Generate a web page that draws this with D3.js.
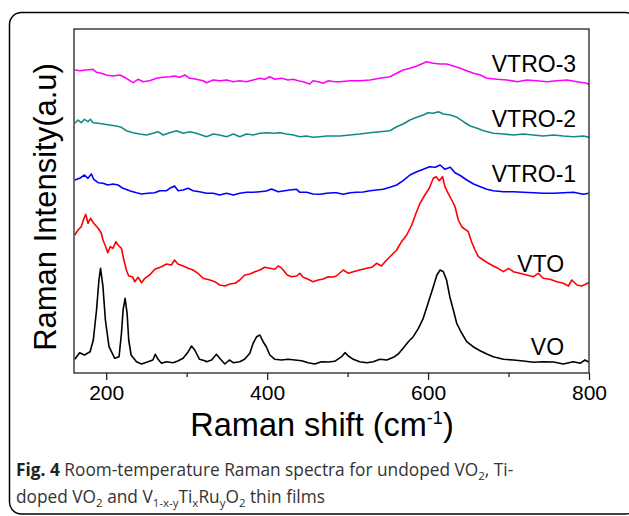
<!DOCTYPE html>
<meta charset="utf-8">
<script src="https://cdn.jsdelivr.net/npm/d3@7/dist/d3.min.js"></script>
<style>
body { margin: 0; background: #fff; }
text { font-family: "Liberation Sans", Arial, sans-serif; fill: #000; }
.caption text, text.caption { font-family: "Open Sans", "Noto Sans", sans-serif; fill: #333; }
</style>
<body>
<script>

// Raman spectra, [shift (cm-1), intensity (a.u., stacked offset)]
var vo = [[161,13.7],[167,20.3],[173,18],[180,21.3],[184,33],[188,63],[191,93],[193,104.7],[196,86.3],[199,53],
  [203.5,26.3],[210.6,14.7],[216,16.3],[219,40],[221,63],[223.5,74.7],[226,59.7],[228,33],[231,18],[237.6,11.3],
  [244,9],[252,11.3],[258,13],[261,18.7],[264.5,13.7],[268.7,9.7],[275,11.3],[283,10.3],[289,12],[295.6,14.7],
  [302,21.3],[306,27],[310,23],[316,13.7],[322.6,12.3],[324.7,11.3],[331,13],[337,18.7],[341,14.7],[347.5,9],
  [353,13],[358,10.3],[366,11.3],[372,13.7],[378.5,19.7],[382.6,29.7],[387,36.3],[391,38],[395,31.3],[399,26.3],
  [403.4,18],[409.6,13.7],[418,13],[426,13.7],[434.5,13],[443,12.3],[451,10.3],[459,9],[467.7,11.3],[476,11],
  [484,11.7],[492.6,16.3],[496.7,20.3],[501,17],[507,13.7],[515,11.3],[523.7,10.3],[532,11.3],[540,13.7],[548.6,13],
  [557,15.7],[563,19],[569,24.7],[575.5,31.3],[581.6,36.3],[588,44.7],[594,54.7],[600,69.7],[606.5,86.3],[611,98],
  [615,103],[619,101.3],[623,93],[627,76.3],[631.4,63],[635.6,49.7],[641,41],[648,31.3],[656,26.3],[664.6,22.3],
  [673,19],[681,16.3],[693.6,13.7],[706,13],[718.5,12],[731,10.7],[743,11.3],[756,11],[768,9],[780.6,11.3],
  [789,9.7],[795,13],[799.5,11]];

var vto = [[161,138],[165,143],[169,146.3],[172,153.7],[174.6,158.7],[177.4,149.7],[180.4,154.7],[184.5,149.7],[190,144.7],[194,139.7],
  [196,133],[199.4,126.3],[202,120.3],[205,126.3],[208.5,124.7],[212,131.3],[214.7,128],[219,124.7],[222,113],[225,103],
  [228,97],[232.6,96.3],[235.5,91.3],[239.6,95.7],[244,90.3],[248,94.7],[254,98],[260.4,103.7],[268.7,106.3],[275,109],
  [281,108],[285,113],[289,109],[295.6,107],[301.8,104.7],[308,103],[314,99.7],[320.4,94.7],[328.8,93],[335,91.3],
  [341,88],[347.5,87],[353.7,89],[360,89.7],[366,93],[372.3,98],[378.5,99],[384.8,101.3],[391,103],[397,105.7],
  [403.4,104.7],[409.6,103.7],[413.7,107],[416.7,105.7],[420,103],[425,98],[430.4,96.3],[436.6,97],[440.7,99.7],[444.8,95.7],
  [451,93.7],[457,91.3],[463.5,93],[469.7,94],[476,96.3],[482,96],[486,97],[494.6,103],[501,99.7],[507,101.3],
  [515,103],[523.7,104.7],[530,105.7],[536,109.7],[542,107],[548.5,113],[554.8,118],[561,123],[567,131.3],[573.4,138],
  [579.7,148],[585,159.7],[590,169.7],[596,178],[601.5,184.7],[606.5,194.7],[610,196.3],[614,192.3],[618,196.3],[621,186.3],
  [625,179.7],[629.4,173],[633.5,166.3],[637.6,153],[642,146],[650,141.3],[654,131.3],[658.4,123],[662.5,116.3],[668.7,113],
  [675,109.7],[681,107],[687,104.7],[693.6,101.3],[700,104.7],[706,101.3],[714,99.7],[722.6,98],[731,96.3],[737,99.7],
  [743,94.7],[751.7,93.7],[760,91.3],[768,89.7],[774.5,87],[778.6,93],[785,88],[791,87],[799.5,90.3]];

var vtro1 = [[161,193],[167,194.7],[173,198],[177.4,194.7],[181.6,199],[184.5,193.7],[190,190.3],[196,189.7],[202,188],[208.5,189],
  [214.7,188],[221,184.7],[229,182.3],[237.6,180.3],[244,179],[252,179.7],[260.4,180.3],[266.6,182.3],[275,182.3],[279,184.7],
  [285,187],[289.4,182.3],[295.6,183],[301.8,184.7],[308,182.3],[316,181.3],[324.7,179.7],[333,179.7],[341,178],[349.6,179.7],
  [358,178],[366,179.7],[374.4,180.7],[382.6,180.7],[391,181.3],[399,182],[405.5,184],[413.7,181.3],[422,182.3],[428,183],
  [436.6,183.7],[440.7,180.7],[449,180.7],[457,179],[465.6,178.7],[474,179.7],[482,180.2],[486,180.3],[494.6,178.7],[503,180.3],
  [511,180.7],[519.5,181],[527.8,182.3],[536,183],[544.3,183.7],[552.6,185.7],[561,188],[569,192.3],[577.5,198],[586,201.3],
  [594,203.7],[602,206.3],[609,205.7],[615,208],[621,203.7],[627.6,205.7],[633.5,200.3],[640,197.5],[648,193],[656.6,189],
  [665,186.3],[673,183.7],[681,182.3],[693.6,181.3],[706,181.3],[718.5,180.7],[731,180.3],[743,179.7],[756,179.7],[768,180.3],
  [780.6,180.7],[793,178.7],[799.5,179.7]];

var vtro2 = [[161,249.7],[165,253],[169,250.3],[173,253.7],[177.4,251.3],[180.4,253.7],[183.6,250.3],[190,249.7],[196,249],[204.4,248],
  [212.7,247],[219,245.7],[225,242.3],[233.4,240.3],[241.7,239],[250,238],[258.3,239.7],[264.5,241.3],[270.7,238],[279,240.3],
  [287.4,242.3],[295.6,239.7],[304,241.3],[312,239.7],[324.7,236.3],[333,239],[341,238],[349.6,236.3],[358,239],[366,236.3],
  [374.4,239],[382.6,238],[391,239.7],[399,240.3],[407.5,239.7],[416,240.3],[424,239],[432.4,238],[440.7,236.3],[449,237],
  [457,235.7],[465.6,236.3],[474,237],[484,237],[490.5,237],[503,238],[515,239],[527.8,240.3],[540,241.3],[552.6,242.3],
  [561,246.3],[569,249],[577.5,253],[586,255.7],[594,258],[600,260.3],[606.5,259.7],[613,261.3],[619,259],[627.6,258],
  [636,255.7],[644,251.3],[652.5,247],[661,244.7],[669,242.3],[681,239.7],[693.6,239],[706,238],[718.5,239],[731,238],
  [743,237],[756,238],[768,237],[780.6,236.3],[793,237],[800,235.7]];

var vtro3 = [[161,303],[167,302.3],[175,303],[183.6,303.7],[188,300.7],[194,299.7],[200,298],[208.5,297],[217,298],[225,294.7],
  [233.4,290.3],[239.6,293.7],[246,291.3],[254,292.3],[262.5,294.7],[270.7,295.7],[279,296.3],[285,297],[291.5,295.7],[297.7,298],
  [304,294.7],[312,293.7],[320.5,292.3],[324.7,290.3],[333,293],[341,292.3],[349.6,293],[358,291.3],[366,292.3],[374.4,291.3],
  [382.6,293],[391,294.7],[397,293.7],[403.4,296.3],[409.6,293.7],[418,294.7],[426,293],[432.4,293.7],[438.6,292.3],[444.8,291.3],
  [453,289],[457,292.3],[463.5,291.3],[469.7,289.7],[476,292.3],[484,291.3],[490.5,291.3],[503,292.3],[515,292.3],[527.8,293],
  [540,294.7],[552.6,296.3],[561,299.7],[569,303],[577.5,304.7],[586,307],[594,309.7],[598,311.3],[606.5,309.7],[615,309],
  [623,309],[631.4,307],[640,304.7],[648,302.3],[656.6,299.7],[665,298],[673,294.7],[685.6,293.7],[698,293],[711,291.3],
  [722.6,293],[735,292.3],[747.7,291.3],[760,292.3],[772.6,293],[785,291.3],[797.6,289.7],[800,288]];

var seriesNames = ["VO", "VTO", "VTRO-1", "VTRO-2", "VTRO-3"];
var seriesData = [vo, vto, vtro1, vtro2, vtro3];
var seriesColors = ["#000000", "#ff0000", "#0000ff", "#138a8a", "#ff00ff"];
// label anchor (right end) in data coords
var labelX = [769, 769, 784, 784, 784];
var labelY = [18, 101, 191, 246.3, 301];

var majorTicks = [200, 400, 600, 800];
var minorTicks = [300, 500, 700];

var width = 629, height = 516;
var margin = {top: 29, right: 40, bottom: 143, left: 74};

var svg = d3.select("body").append("svg")
    .attr("width", width)
    .attr("height", height);

// outer frame of the figure
svg.append("rect")
    .attr("x", 9.5).attr("y", 12.5)
    .attr("width", 628).attr("height", 501.5)
    .attr("rx", 12).attr("ry", 12)
    .attr("fill", "none")
    .attr("stroke", "#000")
    .attr("stroke-width", 1.5);

var x = d3.scaleLinear()
    .domain([160, 800])
    .range([margin.left, width - margin.right]);

var y = d3.scaleLinear()
    .domain([0, 344])
    .range([height - margin.bottom, margin.top]);

var line = d3.line()
    .x(function(d) { return x(d[0]); })
    .y(function(d) { return y(d[1]); });

svg.append("g").selectAll("path")
    .data(seriesData)
    .enter().append("path")
    .attr("d", line)
    .attr("fill", "none")
    .attr("stroke", function(d, i) { return seriesColors[i]; })
    .attr("stroke-width", 1.6)
    .attr("stroke-linejoin", "round");

// plot box
svg.append("rect")
    .attr("x", x(160)).attr("y", y(344))
    .attr("width", x(800) - x(160))
    .attr("height", y(0) - y(344))
    .attr("fill", "none")
    .attr("stroke", "#222")
    .attr("stroke-width", 1.3);

var xAxis = svg.append("g")
    .attr("transform", "translate(0," + y(0) + ")")
    .call(d3.axisBottom(x).tickValues(majorTicks).tickSize(7).tickSizeOuter(0));
xAxis.select(".domain").remove();
xAxis.selectAll("line").attr("stroke", "#222").attr("stroke-width", 1.3);
xAxis.selectAll("text")
    .attr("y", 12)
    .style("font-family", "'Liberation Sans', Arial, sans-serif")
    .style("font-size", "21px")
    .attr("fill", "#000");

var xMinor = svg.append("g")
    .attr("transform", "translate(0," + y(0) + ")")
    .call(d3.axisBottom(x).tickValues(minorTicks).tickSize(4).tickSizeOuter(0).tickFormat(""));
xMinor.select(".domain").remove();
xMinor.selectAll("line").attr("stroke", "#222").attr("stroke-width", 1.3);

// series labels
svg.append("g").selectAll("text")
    .data(seriesNames)
    .enter().append("text")
    .attr("x", function(d, i) { return x(labelX[i]); })
    .attr("y", function(d, i) { return y(labelY[i]); })
    .attr("text-anchor", "end")
    .style("font-size", "23px")
    .text(function(d) { return d; });

// axis titles
var xt = svg.append("text")
    .attr("x", 322)
    .attr("y", 436)
    .attr("text-anchor", "middle")
    .style("font-size", "32.5px");
xt.append("tspan").text("Raman shift (cm");
xt.append("tspan").attr("dy", -12).style("font-size", "18px").text("-1");
xt.append("tspan").attr("dy", 12).text(")");

svg.append("text")
    .attr("transform", "translate(56,207) rotate(-90)")
    .attr("text-anchor", "middle")
    .style("font-size", "31px")
    .text("Raman Intensity(a.u)");

// caption
var cap = svg.append("g").attr("class", "caption");
var l1 = cap.append("text").attr("x", 16).attr("y", 476).style("font-size", "17.3px");
l1.append("tspan").style("font-weight", "bold").style("fill", "#222").text("Fig. 4");
l1.append("tspan").text(" Room-temperature Raman spectra for undoped VO");
l1.append("tspan").attr("dy", 4).style("font-size", "11.5px").text("2");
l1.append("tspan").attr("dy", -4).text(", Ti-");

var l2 = cap.append("text").attr("x", 16).attr("y", 503).style("font-size", "17.3px");
l2.append("tspan").text("doped VO");
l2.append("tspan").attr("dy", 4).style("font-size", "11.5px").text("2");
l2.append("tspan").attr("dy", -4).text(" and V");
l2.append("tspan").attr("dy", 4).style("font-size", "11.5px").text("1-x-y");
l2.append("tspan").attr("dy", -4).text("Ti");
l2.append("tspan").attr("dy", 4).style("font-size", "11.5px").text("x");
l2.append("tspan").attr("dy", -4).text("Ru");
l2.append("tspan").attr("dy", 4).style("font-size", "11.5px").text("y");
l2.append("tspan").attr("dy", -4).text("O");
l2.append("tspan").attr("dy", 4).style("font-size", "11.5px").text("2");
l2.append("tspan").attr("dy", -4).text(" thin films");

</script>
</body>
